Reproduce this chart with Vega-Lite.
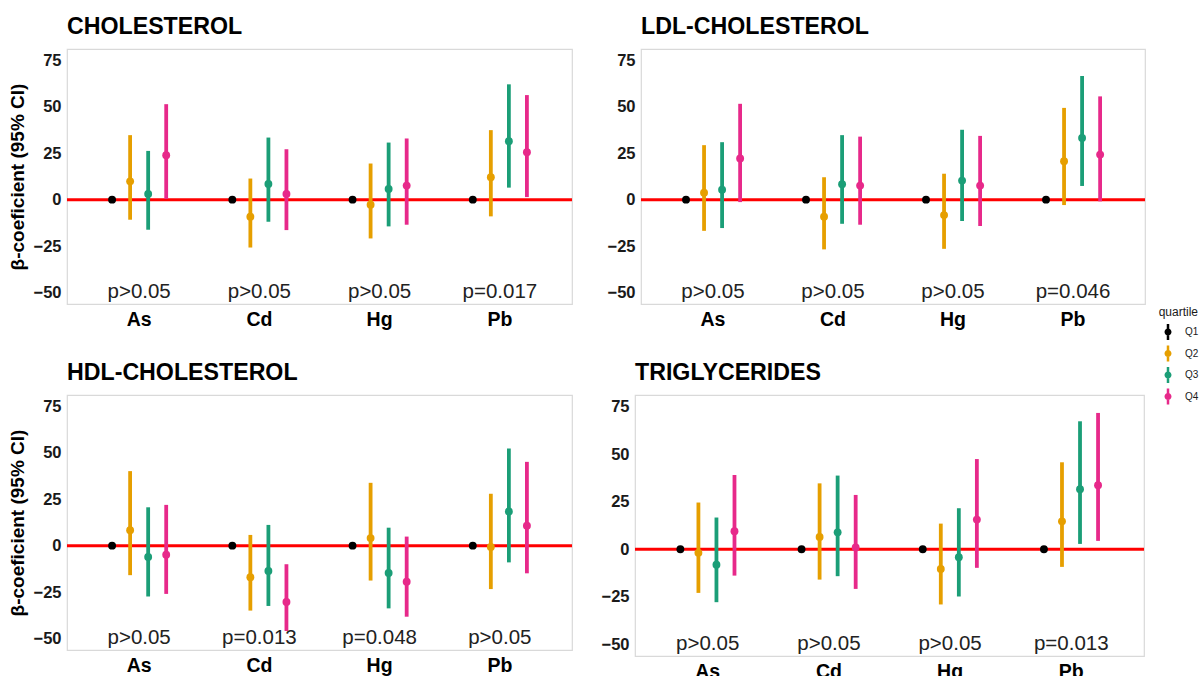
{
  "$schema": "https://vega.github.io/schema/vega-lite/v6.json",
  "padding": {"left": 7, "top": 14, "right": 58, "bottom": 0},
  "background": "white",
  "datasets": {
    "est": [
      {"outcome": "CHOLESTEROL", "metal": "As", "quartile": "Q1", "est": 0, "lo": 0, "hi": 0},
      {"outcome": "CHOLESTEROL", "metal": "As", "quartile": "Q2", "est": 9.9, "lo": -10.8, "hi": 34.8},
      {"outcome": "CHOLESTEROL", "metal": "As", "quartile": "Q3", "est": 3.1, "lo": -16.2, "hi": 26.3},
      {"outcome": "CHOLESTEROL", "metal": "As", "quartile": "Q4", "est": 24.0, "lo": 0.4, "hi": 51.5},
      {"outcome": "CHOLESTEROL", "metal": "Cd", "quartile": "Q1", "est": 0, "lo": 0, "hi": 0},
      {"outcome": "CHOLESTEROL", "metal": "Cd", "quartile": "Q2", "est": -9.2, "lo": -25.8, "hi": 11.4},
      {"outcome": "CHOLESTEROL", "metal": "Cd", "quartile": "Q3", "est": 8.5, "lo": -11.9, "hi": 33.5},
      {"outcome": "CHOLESTEROL", "metal": "Cd", "quartile": "Q4", "est": 3.1, "lo": -16.4, "hi": 27.2},
      {"outcome": "CHOLESTEROL", "metal": "Hg", "quartile": "Q1", "est": 0, "lo": 0, "hi": 0},
      {"outcome": "CHOLESTEROL", "metal": "Hg", "quartile": "Q2", "est": -2.7, "lo": -20.9, "hi": 19.5},
      {"outcome": "CHOLESTEROL", "metal": "Hg", "quartile": "Q3", "est": 5.8, "lo": -14.4, "hi": 30.8},
      {"outcome": "CHOLESTEROL", "metal": "Hg", "quartile": "Q4", "est": 7.6, "lo": -13.5, "hi": 33.0},
      {"outcome": "CHOLESTEROL", "metal": "Pb", "quartile": "Q1", "est": 0, "lo": 0, "hi": 0},
      {"outcome": "CHOLESTEROL", "metal": "Pb", "quartile": "Q2", "est": 12.1, "lo": -9.0, "hi": 37.5},
      {"outcome": "CHOLESTEROL", "metal": "Pb", "quartile": "Q3", "est": 31.5, "lo": 6.5, "hi": 62.2},
      {"outcome": "CHOLESTEROL", "metal": "Pb", "quartile": "Q4", "est": 25.6, "lo": 1.4, "hi": 56.4},
      {"outcome": "LDL-CHOLESTEROL", "metal": "As", "quartile": "Q1", "est": 0, "lo": 0, "hi": 0},
      {"outcome": "LDL-CHOLESTEROL", "metal": "As", "quartile": "Q2", "est": 3.8, "lo": -16.8, "hi": 29.4},
      {"outcome": "LDL-CHOLESTEROL", "metal": "As", "quartile": "Q3", "est": 5.4, "lo": -15.3, "hi": 31.0},
      {"outcome": "LDL-CHOLESTEROL", "metal": "As", "quartile": "Q4", "est": 22.2, "lo": -1.3, "hi": 51.7},
      {"outcome": "LDL-CHOLESTEROL", "metal": "Cd", "quartile": "Q1", "est": 0, "lo": 0, "hi": 0},
      {"outcome": "LDL-CHOLESTEROL", "metal": "Cd", "quartile": "Q2", "est": -9.2, "lo": -26.8, "hi": 12.1},
      {"outcome": "LDL-CHOLESTEROL", "metal": "Cd", "quartile": "Q3", "est": 8.3, "lo": -13.0, "hi": 34.8},
      {"outcome": "LDL-CHOLESTEROL", "metal": "Cd", "quartile": "Q4", "est": 7.6, "lo": -13.5, "hi": 34.0},
      {"outcome": "LDL-CHOLESTEROL", "metal": "Hg", "quartile": "Q1", "est": 0, "lo": 0, "hi": 0},
      {"outcome": "LDL-CHOLESTEROL", "metal": "Hg", "quartile": "Q2", "est": -8.3, "lo": -26.5, "hi": 14.0},
      {"outcome": "LDL-CHOLESTEROL", "metal": "Hg", "quartile": "Q3", "est": 10.3, "lo": -11.5, "hi": 37.7},
      {"outcome": "LDL-CHOLESTEROL", "metal": "Hg", "quartile": "Q4", "est": 7.6, "lo": -14.2, "hi": 34.4},
      {"outcome": "LDL-CHOLESTEROL", "metal": "Pb", "quartile": "Q1", "est": 0, "lo": 0, "hi": 0},
      {"outcome": "LDL-CHOLESTEROL", "metal": "Pb", "quartile": "Q2", "est": 20.7, "lo": -2.9, "hi": 49.5},
      {"outcome": "LDL-CHOLESTEROL", "metal": "Pb", "quartile": "Q3", "est": 33.3, "lo": 7.4, "hi": 66.7},
      {"outcome": "LDL-CHOLESTEROL", "metal": "Pb", "quartile": "Q4", "est": 24.3, "lo": -0.9, "hi": 55.7},
      {"outcome": "HDL-CHOLESTEROL", "metal": "As", "quartile": "Q1", "est": 0, "lo": 0, "hi": 0},
      {"outcome": "HDL-CHOLESTEROL", "metal": "As", "quartile": "Q2", "est": 8.3, "lo": -15.9, "hi": 40.2},
      {"outcome": "HDL-CHOLESTEROL", "metal": "As", "quartile": "Q3", "est": -6.1, "lo": -27.4, "hi": 20.7},
      {"outcome": "HDL-CHOLESTEROL", "metal": "As", "quartile": "Q4", "est": -4.9, "lo": -26.0, "hi": 22.0},
      {"outcome": "HDL-CHOLESTEROL", "metal": "Cd", "quartile": "Q1", "est": 0, "lo": 0, "hi": 0},
      {"outcome": "HDL-CHOLESTEROL", "metal": "Cd", "quartile": "Q2", "est": -17.0, "lo": -35.0, "hi": 5.8},
      {"outcome": "HDL-CHOLESTEROL", "metal": "Cd", "quartile": "Q3", "est": -13.6, "lo": -32.5, "hi": 11.2},
      {"outcome": "HDL-CHOLESTEROL", "metal": "Cd", "quartile": "Q4", "est": -30.4, "lo": -46.0, "hi": -10.0},
      {"outcome": "HDL-CHOLESTEROL", "metal": "Hg", "quartile": "Q1", "est": 0, "lo": 0, "hi": 0},
      {"outcome": "HDL-CHOLESTEROL", "metal": "Hg", "quartile": "Q2", "est": 4.1, "lo": -18.8, "hi": 33.9},
      {"outcome": "HDL-CHOLESTEROL", "metal": "Hg", "quartile": "Q3", "est": -14.7, "lo": -33.8, "hi": 9.7},
      {"outcome": "HDL-CHOLESTEROL", "metal": "Hg", "quartile": "Q4", "est": -19.4, "lo": -38.3, "hi": 4.9},
      {"outcome": "HDL-CHOLESTEROL", "metal": "Pb", "quartile": "Q1", "est": 0, "lo": 0, "hi": 0},
      {"outcome": "HDL-CHOLESTEROL", "metal": "Pb", "quartile": "Q2", "est": -0.7, "lo": -23.4, "hi": 28.0},
      {"outcome": "HDL-CHOLESTEROL", "metal": "Pb", "quartile": "Q3", "est": 18.4, "lo": -9.0, "hi": 52.4},
      {"outcome": "HDL-CHOLESTEROL", "metal": "Pb", "quartile": "Q4", "est": 10.8, "lo": -14.9, "hi": 45.2},
      {"outcome": "TRIGLYCERIDES", "metal": "As", "quartile": "Q1", "est": 0, "lo": 0, "hi": 0},
      {"outcome": "TRIGLYCERIDES", "metal": "As", "quartile": "Q2", "est": -1.9, "lo": -23.0, "hi": 24.6},
      {"outcome": "TRIGLYCERIDES", "metal": "As", "quartile": "Q3", "est": -8.2, "lo": -27.9, "hi": 16.7},
      {"outcome": "TRIGLYCERIDES", "metal": "As", "quartile": "Q4", "est": 9.5, "lo": -13.9, "hi": 39.1},
      {"outcome": "TRIGLYCERIDES", "metal": "Cd", "quartile": "Q1", "est": 0, "lo": 0, "hi": 0},
      {"outcome": "TRIGLYCERIDES", "metal": "Cd", "quartile": "Q2", "est": 6.5, "lo": -16.0, "hi": 34.7},
      {"outcome": "TRIGLYCERIDES", "metal": "Cd", "quartile": "Q3", "est": 8.9, "lo": -14.2, "hi": 38.8},
      {"outcome": "TRIGLYCERIDES", "metal": "Cd", "quartile": "Q4", "est": 0.9, "lo": -20.9, "hi": 28.6},
      {"outcome": "TRIGLYCERIDES", "metal": "Hg", "quartile": "Q1", "est": 0, "lo": 0, "hi": 0},
      {"outcome": "TRIGLYCERIDES", "metal": "Hg", "quartile": "Q2", "est": -10.4, "lo": -29.1, "hi": 13.5},
      {"outcome": "TRIGLYCERIDES", "metal": "Hg", "quartile": "Q3", "est": -4.2, "lo": -24.9, "hi": 21.6},
      {"outcome": "TRIGLYCERIDES", "metal": "Hg", "quartile": "Q4", "est": 15.6, "lo": -9.8, "hi": 47.5},
      {"outcome": "TRIGLYCERIDES", "metal": "Pb", "quartile": "Q1", "est": 0, "lo": 0, "hi": 0},
      {"outcome": "TRIGLYCERIDES", "metal": "Pb", "quartile": "Q2", "est": 14.7, "lo": -9.3, "hi": 45.8},
      {"outcome": "TRIGLYCERIDES", "metal": "Pb", "quartile": "Q3", "est": 31.6, "lo": 2.8, "hi": 67.4},
      {"outcome": "TRIGLYCERIDES", "metal": "Pb", "quartile": "Q4", "est": 33.7, "lo": 4.4, "hi": 71.8}
    ],
    "pv": [
      {"outcome": "CHOLESTEROL", "metal": "As", "label": "p>0.05"},
      {"outcome": "CHOLESTEROL", "metal": "Cd", "label": "p>0.05"},
      {"outcome": "CHOLESTEROL", "metal": "Hg", "label": "p>0.05"},
      {"outcome": "CHOLESTEROL", "metal": "Pb", "label": "p=0.017"},
      {"outcome": "LDL-CHOLESTEROL", "metal": "As", "label": "p>0.05"},
      {"outcome": "LDL-CHOLESTEROL", "metal": "Cd", "label": "p>0.05"},
      {"outcome": "LDL-CHOLESTEROL", "metal": "Hg", "label": "p>0.05"},
      {"outcome": "LDL-CHOLESTEROL", "metal": "Pb", "label": "p=0.046"},
      {"outcome": "HDL-CHOLESTEROL", "metal": "As", "label": "p>0.05"},
      {"outcome": "HDL-CHOLESTEROL", "metal": "Cd", "label": "p=0.013"},
      {"outcome": "HDL-CHOLESTEROL", "metal": "Hg", "label": "p=0.048"},
      {"outcome": "HDL-CHOLESTEROL", "metal": "Pb", "label": "p>0.05"},
      {"outcome": "TRIGLYCERIDES", "metal": "As", "label": "p>0.05"},
      {"outcome": "TRIGLYCERIDES", "metal": "Cd", "label": "p>0.05"},
      {"outcome": "TRIGLYCERIDES", "metal": "Hg", "label": "p>0.05"},
      {"outcome": "TRIGLYCERIDES", "metal": "Pb", "label": "p=0.013"}
    ]
  },
  "config": {
    "font": "Liberation Sans",
    "view": {"stroke": "#D9D9D9", "strokeWidth": 1.2},
    "axis": {"ticks": false, "domain": false, "gridColor": "#EDEDED", "gridWidth": 0.8, "labelFont": "Liberation Sans", "labelFontWeight": "bold", "titleFont": "Liberation Sans", "titleFontWeight": "bold", "titleColor": "#000000"},
    "axisX": {"labelFontSize": 19.5, "labelColor": "#000000", "labelPadding": 6, "labelAngle": 0},
    "axisY": {"labelFontSize": 16.5, "labelColor": "#1A1A1A", "labelPadding": 6, "titleFontSize": 19, "titlePadding": 6},
    "title": {"font": "Liberation Sans", "fontSize": 23.2, "fontWeight": "bold", "anchor": "start", "frame": "group", "color": "#000000", "offset": 10}
  },
  "resolve": {"scale": {"color": "shared"}},
  "spacing": 30,
  "vconcat": [
    {
      "spacing": 31,
      "hconcat": [
        {
          "width": 505, "height": 255,
          "title": "CHOLESTEROL",
          "layer": [
            {"data": {"values": [{}]}, "mark": {"type": "rule", "color": "#FF0000", "strokeWidth": 3},
             "encoding": {"y": {"datum": 0, "type": "quantitative", "title": "β-coeficient (95% CI)", "scale": {"domain": [-56.25, 81.25], "nice": false, "zero": false}, "axis": {"values": [-50, -25, 0, 25, 50, 75]}}}},
            {"data": {"name": "est"}, "transform": [{"filter": "datum.outcome === 'CHOLESTEROL'"}],
             "mark": {"type": "rule", "strokeWidth": 3.8, "strokeCap": "butt"},
             "encoding": {
               "x": {"field": "metal", "type": "nominal", "sort": ["As", "Cd", "Hg", "Pb"], "title": null, "scale": {"paddingInner": 0.4, "paddingOuter": 0.3}, "axis": {"bandPosition": 0.5}},
               "xOffset": {"field": "quartile", "type": "nominal", "sort": ["Q1", "Q2", "Q3", "Q4"], "scale": {"paddingInner": 0, "paddingOuter": 0}},
               "y": {"field": "lo", "type": "quantitative", "title": "β-coeficient (95% CI)", "scale": {"domain": [-56.25, 81.25], "nice": false, "zero": false}, "axis": {"values": [-50, -25, 0, 25, 50, 75]}},
               "y2": {"field": "hi"},
               "color": {"field": "quartile", "type": "nominal", "scale": {"domain": ["Q1", "Q2", "Q3", "Q4"], "range": ["#000000", "#E69F00", "#1B9E77", "#E7298A"]}}
             }},
            {"data": {"name": "est"}, "transform": [{"filter": "datum.outcome === 'CHOLESTEROL'"}],
             "mark": {"type": "point", "filled": true, "shape": "circle", "size": 62, "opacity": 1},
             "encoding": {
               "x": {"field": "metal", "type": "nominal", "sort": ["As", "Cd", "Hg", "Pb"], "title": null, "scale": {"paddingInner": 0.4, "paddingOuter": 0.3}, "axis": {"bandPosition": 0.5}},
               "xOffset": {"field": "quartile", "type": "nominal", "sort": ["Q1", "Q2", "Q3", "Q4"], "scale": {"paddingInner": 0, "paddingOuter": 0}},
               "y": {"field": "est", "type": "quantitative", "title": "β-coeficient (95% CI)", "scale": {"domain": [-56.25, 81.25], "nice": false, "zero": false}, "axis": {"values": [-50, -25, 0, 25, 50, 75]}},
               "color": {"field": "quartile", "type": "nominal", "scale": {"domain": ["Q1", "Q2", "Q3", "Q4"], "range": ["#000000", "#E69F00", "#1B9E77", "#E7298A"]},
                 "legend": {"title": "quartile", "orient": "none", "legendX": 1091, "legendY": 258, "titleAnchor": "end", "symbolType": "M-0.25,-1.6H0.25V1.6H-0.25Z M0.7,0A0.7,0.7,0,1,1,-0.7,0A0.7,0.7,0,1,1,0.7,0Z", "symbolSize": 100, "symbolStrokeWidth": 0, "symbolOffset": 5, "labelFontSize": 10, "labelOffset": 12, "labelColor": "#1A1A1A", "titleFontSize": 12, "titleFontWeight": "normal", "titleColor": "#1A1A1A", "titlePadding": 8, "rowPadding": 5.5}}
             }},
            {"data": {"name": "pv"}, "transform": [{"filter": "datum.outcome === 'CHOLESTEROL'"}],
             "mark": {"type": "text", "fontSize": 20.5, "color": "#222222", "baseline": "middle", "align": "center"},
             "encoding": {
               "x": {"field": "metal", "type": "nominal", "sort": ["As", "Cd", "Hg", "Pb"], "title": null, "scale": {"paddingInner": 0.4, "paddingOuter": 0.3}, "axis": {"bandPosition": 0.5}},
               "y": {"datum": -50, "type": "quantitative", "title": "β-coeficient (95% CI)", "scale": {"domain": [-56.25, 81.25], "nice": false, "zero": false}, "axis": {"values": [-50, -25, 0, 25, 50, 75]}},
               "text": {"field": "label"}
             }}
          ]
        },
        {
          "width": 504, "height": 255,
          "title": "LDL-CHOLESTEROL",
          "layer": [
            {"data": {"values": [{}]}, "mark": {"type": "rule", "color": "#FF0000", "strokeWidth": 3},
             "encoding": {"y": {"datum": 0, "type": "quantitative", "title": null, "scale": {"domain": [-56.25, 81.25], "nice": false, "zero": false}, "axis": {"values": [-50, -25, 0, 25, 50, 75]}}}},
            {"data": {"name": "est"}, "transform": [{"filter": "datum.outcome === 'LDL-CHOLESTEROL'"}],
             "mark": {"type": "rule", "strokeWidth": 3.8, "strokeCap": "butt"},
             "encoding": {
               "x": {"field": "metal", "type": "nominal", "sort": ["As", "Cd", "Hg", "Pb"], "title": null, "scale": {"paddingInner": 0.4, "paddingOuter": 0.3}, "axis": {"bandPosition": 0.5}},
               "xOffset": {"field": "quartile", "type": "nominal", "sort": ["Q1", "Q2", "Q3", "Q4"], "scale": {"paddingInner": 0, "paddingOuter": 0}},
               "y": {"field": "lo", "type": "quantitative", "title": null, "scale": {"domain": [-56.25, 81.25], "nice": false, "zero": false}, "axis": {"values": [-50, -25, 0, 25, 50, 75]}},
               "y2": {"field": "hi"},
               "color": {"field": "quartile", "type": "nominal", "scale": {"domain": ["Q1", "Q2", "Q3", "Q4"], "range": ["#000000", "#E69F00", "#1B9E77", "#E7298A"]}}
             }},
            {"data": {"name": "est"}, "transform": [{"filter": "datum.outcome === 'LDL-CHOLESTEROL'"}],
             "mark": {"type": "point", "filled": true, "shape": "circle", "size": 62, "opacity": 1},
             "encoding": {
               "x": {"field": "metal", "type": "nominal", "sort": ["As", "Cd", "Hg", "Pb"], "title": null, "scale": {"paddingInner": 0.4, "paddingOuter": 0.3}, "axis": {"bandPosition": 0.5}},
               "xOffset": {"field": "quartile", "type": "nominal", "sort": ["Q1", "Q2", "Q3", "Q4"], "scale": {"paddingInner": 0, "paddingOuter": 0}},
               "y": {"field": "est", "type": "quantitative", "title": null, "scale": {"domain": [-56.25, 81.25], "nice": false, "zero": false}, "axis": {"values": [-50, -25, 0, 25, 50, 75]}},
               "color": {"field": "quartile", "type": "nominal", "scale": {"domain": ["Q1", "Q2", "Q3", "Q4"], "range": ["#000000", "#E69F00", "#1B9E77", "#E7298A"]},
                 "legend": {"title": "quartile", "orient": "none", "legendX": 1091, "legendY": 258, "titleAnchor": "end", "symbolType": "M-0.25,-1.6H0.25V1.6H-0.25Z M0.7,0A0.7,0.7,0,1,1,-0.7,0A0.7,0.7,0,1,1,0.7,0Z", "symbolSize": 100, "symbolStrokeWidth": 0, "symbolOffset": 5, "labelFontSize": 10, "labelOffset": 12, "labelColor": "#1A1A1A", "titleFontSize": 12, "titleFontWeight": "normal", "titleColor": "#1A1A1A", "titlePadding": 8, "rowPadding": 5.5}}
             }},
            {"data": {"name": "pv"}, "transform": [{"filter": "datum.outcome === 'LDL-CHOLESTEROL'"}],
             "mark": {"type": "text", "fontSize": 20.5, "color": "#222222", "baseline": "middle", "align": "center"},
             "encoding": {
               "x": {"field": "metal", "type": "nominal", "sort": ["As", "Cd", "Hg", "Pb"], "title": null, "scale": {"paddingInner": 0.4, "paddingOuter": 0.3}, "axis": {"bandPosition": 0.5}},
               "y": {"datum": -50, "type": "quantitative", "title": null, "scale": {"domain": [-56.25, 81.25], "nice": false, "zero": false}, "axis": {"values": [-50, -25, 0, 25, 50, 75]}},
               "text": {"field": "label"}
             }}
          ]
        }
      ]
    },
    {
      "spacing": 25,
      "hconcat": [
        {
          "width": 505, "height": 255,
          "title": "HDL-CHOLESTEROL",
          "layer": [
            {"data": {"values": [{}]}, "mark": {"type": "rule", "color": "#FF0000", "strokeWidth": 3},
             "encoding": {"y": {"datum": 0, "type": "quantitative", "title": "β-coeficient (95% CI)", "scale": {"domain": [-56.25, 81.25], "nice": false, "zero": false}, "axis": {"values": [-50, -25, 0, 25, 50, 75]}}}},
            {"data": {"name": "est"}, "transform": [{"filter": "datum.outcome === 'HDL-CHOLESTEROL'"}],
             "mark": {"type": "rule", "strokeWidth": 3.8, "strokeCap": "butt"},
             "encoding": {
               "x": {"field": "metal", "type": "nominal", "sort": ["As", "Cd", "Hg", "Pb"], "title": null, "scale": {"paddingInner": 0.4, "paddingOuter": 0.3}, "axis": {"bandPosition": 0.5}},
               "xOffset": {"field": "quartile", "type": "nominal", "sort": ["Q1", "Q2", "Q3", "Q4"], "scale": {"paddingInner": 0, "paddingOuter": 0}},
               "y": {"field": "lo", "type": "quantitative", "title": "β-coeficient (95% CI)", "scale": {"domain": [-56.25, 81.25], "nice": false, "zero": false}, "axis": {"values": [-50, -25, 0, 25, 50, 75]}},
               "y2": {"field": "hi"},
               "color": {"field": "quartile", "type": "nominal", "scale": {"domain": ["Q1", "Q2", "Q3", "Q4"], "range": ["#000000", "#E69F00", "#1B9E77", "#E7298A"]}}
             }},
            {"data": {"name": "est"}, "transform": [{"filter": "datum.outcome === 'HDL-CHOLESTEROL'"}],
             "mark": {"type": "point", "filled": true, "shape": "circle", "size": 62, "opacity": 1},
             "encoding": {
               "x": {"field": "metal", "type": "nominal", "sort": ["As", "Cd", "Hg", "Pb"], "title": null, "scale": {"paddingInner": 0.4, "paddingOuter": 0.3}, "axis": {"bandPosition": 0.5}},
               "xOffset": {"field": "quartile", "type": "nominal", "sort": ["Q1", "Q2", "Q3", "Q4"], "scale": {"paddingInner": 0, "paddingOuter": 0}},
               "y": {"field": "est", "type": "quantitative", "title": "β-coeficient (95% CI)", "scale": {"domain": [-56.25, 81.25], "nice": false, "zero": false}, "axis": {"values": [-50, -25, 0, 25, 50, 75]}},
               "color": {"field": "quartile", "type": "nominal", "scale": {"domain": ["Q1", "Q2", "Q3", "Q4"], "range": ["#000000", "#E69F00", "#1B9E77", "#E7298A"]},
                 "legend": {"title": "quartile", "orient": "none", "legendX": 1091, "legendY": 258, "titleAnchor": "end", "symbolType": "M-0.25,-1.6H0.25V1.6H-0.25Z M0.7,0A0.7,0.7,0,1,1,-0.7,0A0.7,0.7,0,1,1,0.7,0Z", "symbolSize": 100, "symbolStrokeWidth": 0, "symbolOffset": 5, "labelFontSize": 10, "labelOffset": 12, "labelColor": "#1A1A1A", "titleFontSize": 12, "titleFontWeight": "normal", "titleColor": "#1A1A1A", "titlePadding": 8, "rowPadding": 5.5}}
             }},
            {"data": {"name": "pv"}, "transform": [{"filter": "datum.outcome === 'HDL-CHOLESTEROL'"}],
             "mark": {"type": "text", "fontSize": 20.5, "color": "#222222", "baseline": "middle", "align": "center"},
             "encoding": {
               "x": {"field": "metal", "type": "nominal", "sort": ["As", "Cd", "Hg", "Pb"], "title": null, "scale": {"paddingInner": 0.4, "paddingOuter": 0.3}, "axis": {"bandPosition": 0.5}},
               "y": {"datum": -50, "type": "quantitative", "title": "β-coeficient (95% CI)", "scale": {"domain": [-56.25, 81.25], "nice": false, "zero": false}, "axis": {"values": [-50, -25, 0, 25, 50, 75]}},
               "text": {"field": "label"}
             }}
          ]
        },
        {
          "width": 509, "height": 261,
          "title": "TRIGLYCERIDES",
          "layer": [
            {"data": {"values": [{}]}, "mark": {"type": "rule", "color": "#FF0000", "strokeWidth": 3},
             "encoding": {"y": {"datum": 0, "type": "quantitative", "title": null, "scale": {"domain": [-56.25, 81.25], "nice": false, "zero": false}, "axis": {"values": [-50, -25, 0, 25, 50, 75]}}}},
            {"data": {"name": "est"}, "transform": [{"filter": "datum.outcome === 'TRIGLYCERIDES'"}],
             "mark": {"type": "rule", "strokeWidth": 3.8, "strokeCap": "butt"},
             "encoding": {
               "x": {"field": "metal", "type": "nominal", "sort": ["As", "Cd", "Hg", "Pb"], "title": null, "scale": {"paddingInner": 0.4, "paddingOuter": 0.3}, "axis": {"bandPosition": 0.5}},
               "xOffset": {"field": "quartile", "type": "nominal", "sort": ["Q1", "Q2", "Q3", "Q4"], "scale": {"paddingInner": 0, "paddingOuter": 0}},
               "y": {"field": "lo", "type": "quantitative", "title": null, "scale": {"domain": [-56.25, 81.25], "nice": false, "zero": false}, "axis": {"values": [-50, -25, 0, 25, 50, 75]}},
               "y2": {"field": "hi"},
               "color": {"field": "quartile", "type": "nominal", "scale": {"domain": ["Q1", "Q2", "Q3", "Q4"], "range": ["#000000", "#E69F00", "#1B9E77", "#E7298A"]}}
             }},
            {"data": {"name": "est"}, "transform": [{"filter": "datum.outcome === 'TRIGLYCERIDES'"}],
             "mark": {"type": "point", "filled": true, "shape": "circle", "size": 62, "opacity": 1},
             "encoding": {
               "x": {"field": "metal", "type": "nominal", "sort": ["As", "Cd", "Hg", "Pb"], "title": null, "scale": {"paddingInner": 0.4, "paddingOuter": 0.3}, "axis": {"bandPosition": 0.5}},
               "xOffset": {"field": "quartile", "type": "nominal", "sort": ["Q1", "Q2", "Q3", "Q4"], "scale": {"paddingInner": 0, "paddingOuter": 0}},
               "y": {"field": "est", "type": "quantitative", "title": null, "scale": {"domain": [-56.25, 81.25], "nice": false, "zero": false}, "axis": {"values": [-50, -25, 0, 25, 50, 75]}},
               "color": {"field": "quartile", "type": "nominal", "scale": {"domain": ["Q1", "Q2", "Q3", "Q4"], "range": ["#000000", "#E69F00", "#1B9E77", "#E7298A"]},
                 "legend": {"title": "quartile", "orient": "none", "legendX": 1091, "legendY": 258, "titleAnchor": "end", "symbolType": "M-0.25,-1.6H0.25V1.6H-0.25Z M0.7,0A0.7,0.7,0,1,1,-0.7,0A0.7,0.7,0,1,1,0.7,0Z", "symbolSize": 100, "symbolStrokeWidth": 0, "symbolOffset": 5, "labelFontSize": 10, "labelOffset": 12, "labelColor": "#1A1A1A", "titleFontSize": 12, "titleFontWeight": "normal", "titleColor": "#1A1A1A", "titlePadding": 8, "rowPadding": 5.5}}
             }},
            {"data": {"name": "pv"}, "transform": [{"filter": "datum.outcome === 'TRIGLYCERIDES'"}],
             "mark": {"type": "text", "fontSize": 20.5, "color": "#222222", "baseline": "middle", "align": "center"},
             "encoding": {
               "x": {"field": "metal", "type": "nominal", "sort": ["As", "Cd", "Hg", "Pb"], "title": null, "scale": {"paddingInner": 0.4, "paddingOuter": 0.3}, "axis": {"bandPosition": 0.5}},
               "y": {"datum": -50, "type": "quantitative", "title": null, "scale": {"domain": [-56.25, 81.25], "nice": false, "zero": false}, "axis": {"values": [-50, -25, 0, 25, 50, 75]}},
               "text": {"field": "label"}
             }}
          ]
        }
      ]
    }
  ]
}
